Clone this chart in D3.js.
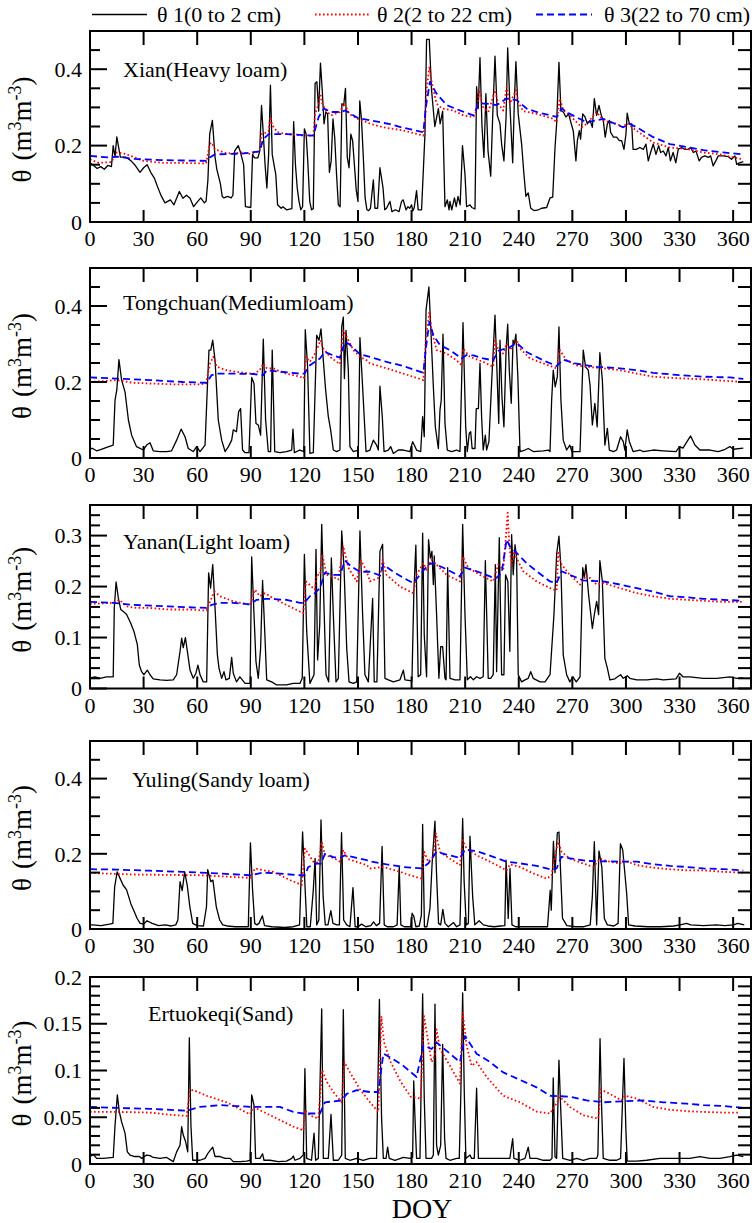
<!DOCTYPE html>
<html><head><meta charset="utf-8">
<script src="https://cdn.jsdelivr.net/npm/d3@7"></script>
<style>body{margin:0;background:#fff}svg{display:block}text{font-family:"Liberation Serif","Times New Roman",serif;fill:#000}</style>
</head><body>
<script>
// ---------- DATA (day of year, theta m3/m3) ----------
const xTicks = [0,30,60,90,120,150,180,210,240,270,300,330,360];
const seriesNames = ["θ 1(0 to 2 cm)","θ 2(2 to 22 cm)","θ 3(22 to 70 cm)"];
const siteNames = ["Xian(Heavy loam)","Tongchuan(Mediumloam)","Yanan(Light loam)","Yuling(Sandy loam)","Ertuokeqi(Sand)"];
const yLabels1 = [0,0.2,0.4];
const yLabels2 = [0,0.2,0.4];
const yLabels3 = [0,0.1,0.2,0.3];
const yLabels4 = [0,0.2,0.4];
const yLabels5 = [0,0.05,0.1,0.15,0.2];

const xianT1 = [[0,.155],[2,.148],[4,.14],[6,.145],[8,.138],[10,.148],[12,.145],[13,.2],[14,.17],[15,.223],[17,.17],[20,.17],[23,.16],[25,.15],[28,.13],[30,.142],[32,.15],[34,.13],[36,.115],[38,.09],[40,.067],[42,.05],[45,.058],[47,.045],[50,.08],[52,.062],[54,.07],[56,.062],[58,.04],[60,.052],[62,.063],[64,.05],[65,.055],[66,.11],[67,.23],[68.5,.266],[70,.17],[71,.138],[73,.1],[74,.067],[75,.063],[77,.067],[79,.063],[80,.07],[81,.186],[83,.2],[84,.186],[86,.15],[87,.04],[90,.038],[91,.177],[92,.168],[94,.168],[95,.186],[96,.305],[97,.23],[98,.15],[99,.089],[100,.177],[101,.358],[102,.177],[103,.15],[104,.124],[105,.045],[107,.036],[108,.04],[110,.032],[113,.035],[114,.263],[115,.15],[116,.089],[117,.054],[118,.032],[119,.04],[120,.244],[121,.23],[122,.15],[123,.054],[124,.032],[125,.035],[126,.363],[127,.367],[128,.29],[129,.416],[130,.345],[131,.257],[132,.288],[133,.283],[134,.13],[135,.16],[136,.27],[137,.22],[138,.125],[139,.045],[140,.04],[141,.31],[142,.305],[143,.35],[144,.17],[145,.142],[146,.23],[147,.213],[148,.15],[149,.085],[150,.054],[151,.317],[152,.266],[153,.169],[154,.063],[155,.032],[156,.03],[157,.036],[158.6,.11],[159.5,.036],[161,.036],[162.3,.142],[164,.09],[165,.032],[166,.036],[167.9,.054],[169,.027],[171,.032],[173,.027],[174.4,.054],[175.3,.058],[176.9,.032],[178,.04],[179,.036],[180,.045],[180.7,.029],[181.5,.038],[182.8,.082],[183.7,.032],[185.6,.032],[187.5,.23],[188.4,.478],[189.9,.478],[191.2,.345],[193,.25],[195,.297],[196,.257],[197.4,.29],[198.7,.04],[200,.058],[201,.032],[201.5,.054],[202.5,.032],[204,.063],[205,.04],[206,.067],[207.2,.045],[208.5,.2],[209.9,.125],[210.8,.04],[212.7,.045],[213.7,.038],[215.5,.034],[216.4,.354],[217.3,.297],[218.3,.43],[219.4,.253],[220.5,.169],[221.6,.336],[222.8,.186],[224.3,.12],[225.4,.275],[226.7,.434],[228,.279],[229.5,.257],[230.4,.204],[231.7,.16],[232.9,.275],[233.8,.456],[235.1,.301],[236.6,.155],[237.5,.31],[238.4,.42],[239.7,.283],[241.6,.204],[242.9,.125],[244,.067],[245.3,.076],[246.7,.036],[248.5,.03],[251,.032],[252.8,.036],[255.6,.038],[257.5,.063],[259,.065],[260.3,.195],[261.2,.257],[262.5,.418],[263.6,.292],[264.9,.288],[266.4,.275],[267.9,.283],[269.4,.257],[270.5,.239],[272,.16],[272.8,.213],[273.9,.239],[274.6,.217],[275.8,.283],[277.1,.275],[278.4,.257],[279.9,.266],[281.2,.248],[282.3,.323],[283.6,.279],[284.9,.305],[286.2,.279],[287.3,.266],[288.4,.222],[289.6,.257],[290.7,.266],[291.4,.235],[293,.222],[294.8,.222],[296.3,.213],[297.6,.213],[298.9,.19],[300,.23],[300.7,.285],[301.9,.257],[303.2,.257],[304,.19],[305.8,.19],[307.8,.195],[309.7,.19],[311.2,.204],[312.5,.16],[313.8,.182],[315.3,.204],[316.8,.177],[318.3,.2],[319.4,.182],[320.9,.186],[322.4,.173],[323.7,.195],[324.9,.16],[326.4,.182],[327.9,.155],[329.3,.191],[331.2,.195],[333,.19],[334.9,.191],[336.2,.195],[337.7,.182],[339.2,.186],[341,.16],[342.3,.169],[344.2,.173],[346.1,.169],[347.4,.173],[348.8,.147],[350.3,.16],[351.7,.173],[354.5,.173],[357.3,.171],[359.1,.164],[361,.173],[362,.151],[363.5,.155],[365.7,.158]];
const xianT2 = [[0,.164],[5,.155],[12,.157],[15,.182],[20,.178],[25,.169],[30,.16],[40,.155],[50,.155],[65,.153],[67,.204],[68,.208],[70,.19],[75,.182],[80,.179],[85,.182],[90,.178],[95,.186],[96,.23],[97,.23],[100,.239],[101,.275],[102,.253],[105,.235],[110,.23],[120,.226],[125,.226],[126,.283],[128,.31],[129,.336],[130,.31],[132,.292],[135,.279],[140,.288],[142,.31],[143,.305],[145,.283],[150,.27],[155,.261],[157,.257],[164,.248],[175,.24],[186.6,.226],[187.5,.257],[188.4,.345],[190,.407],[191.2,.367],[194,.31],[197,.297],[203.4,.292],[209,.279],[214.6,.275],[216.4,.292],[217.9,.345],[220,.301],[223,.288],[226.7,.345],[228.5,.31],[231.3,.292],[233.2,.354],[235,.31],[238.4,.345],[239.7,.314],[242.5,.29],[250,.283],[259.3,.27],[261.2,.261],[263,.323],[265,.292],[268.6,.279],[275.2,.248],[278,.257],[283.6,.288],[287.3,.266],[294.8,.257],[298.5,.248],[300.4,.259],[306,.239],[315.3,.208],[324.6,.195],[334,.191],[343.3,.182],[352.6,.177],[365.7,.164]];
const xianT3 = [[0,.173],[10,.169],[15,.171],[25,.165],[40,.162],[65,.16],[67,.169],[70,.177],[85,.179],[95,.185],[97,.217],[100,.23],[110,.23],[125,.226],[128,.275],[131,.297],[135,.288],[140,.288],[143,.292],[150,.272],[157,.266],[168,.256],[175,.247],[186.6,.235],[188,.301],[190.3,.367],[194,.336],[199.6,.306],[207,.292],[214.6,.279],[217.5,.31],[222,.31],[227.6,.306],[233.2,.323],[238.8,.319],[244.4,.297],[250,.288],[261.2,.275],[264,.297],[268.6,.283],[278,.261],[287.3,.27],[298.5,.248],[302,.257],[306,.248],[315.3,.222],[324.6,.204],[335.8,.195],[343.3,.188],[354.5,.182],[365.7,.177]];

const tongT1 = [[0,.025],[1.5,.025],[3.7,.019],[6,.022],[9.3,.028],[13,.034],[14,.152],[15,.179],[16.2,.259],[17.7,.205],[19.6,.174],[21.5,.1],[23.3,.06],[26,.03],[29.9,.021],[31.7,.034],[33.6,.04],[35.4,.019],[39,.017],[42.9,.017],[45.7,.019],[48.5,.047],[51,.076],[53.2,.056],[55,.025],[57.8,.017],[59.7,.03],[61.6,.017],[64.4,.034],[65.7,.187],[66.6,.284],[67.6,.284],[68.7,.31],[70,.257],[71.8,.1],[73.7,.047],[75.6,.017],[77.5,.03],[79.3,.047],[80.2,.074],[82,.069],[83.2,.122],[84.3,.13],[85.4,.021],[86.8,.014],[89,.014],[90.5,.212],[91.8,.196],[92.9,.091],[94.2,.087],[95.5,.06],[97,.313],[98.3,.1],[99.8,.017],[101.1,.017],[102,.284],[103.4,.017],[106.3,.014],[110,.017],[112.9,.021],[113.6,.076],[114.4,.014],[117.5,.021],[119.7,.017],[120.5,.338],[121.8,.24],[123.1,.012],[125,.014],[126.9,.323],[128.2,.31],[129.3,.34],[130.6,.257],[131.9,.179],[133.4,.109],[134.7,.074],[136.2,.021],[138.1,.017],[139.9,.021],[140.9,.345],[141.8,.371],[142.4,.209],[143.3,.336],[144.6,.231],[145.5,.03],[147.4,.017],[150.2,.021],[151.1,.317],[152.6,.187],[154.5,.017],[156.7,.021],[158.6,.047],[160.4,.034],[161.4,.021],[162.3,.189],[163.6,.109],[164.6,.017],[167,.021],[168.3,.03],[169.8,.012],[172.6,.021],[175.4,.021],[179.1,.017],[180.6,.043],[181.5,.034],[182.8,.021],[185.1,.017],[186.2,.109],[187.1,.056],[188.1,.389],[189.7,.45],[190.9,.327],[192.2,.187],[193.3,.082],[195,.025],[195.9,.126],[196.6,.152],[197.6,.326],[198.7,.091],[200,.021],[202.4,.017],[205.2,.021],[207.1,.017],[208.8,.356],[210.3,.082],[211.2,.017],[212.3,.065],[213.1,.069],[213.9,.025],[215.5,.025],[216.2,.13],[217.4,.13],[218.3,.249],[219.2,.109],[220.1,.021],[221.3,.06],[222,.021],[223.3,.043],[224.8,.196],[226.7,.376],[227.6,.257],[228.8,.091],[229.5,.31],[230.6,.161],[231.7,.082],[232.9,.284],[233.8,.352],[234.7,.231],[235.8,.144],[236.8,.31],[237.6,.301],[238.4,.326],[239.5,.214],[240.7,.017],[243.5,.021],[245.3,.025],[248.1,.017],[253.7,.019],[256.5,.021],[257.5,.017],[258.4,.152],[259.3,.231],[260.4,.187],[261.6,.214],[262.5,.345],[263.6,.152],[264.9,.047],[266.8,.021],[268.6,.034],[269.7,.017],[274.3,.017],[276.1,.284],[277.4,.24],[278.9,.231],[279.9,.192],[281.2,.087],[282.6,.144],[283.9,.082],[285.4,.277],[286.8,.205],[288.2,.034],[289.6,.078],[290.7,.021],[293,.017],[294.8,.021],[297,.056],[298.5,.043],[299.4,.021],[300.7,.074],[301.9,.043],[304,.017],[307.8,.021],[309.7,.017],[315.3,.021],[320.9,.019],[328,.017],[330,.03],[331.9,.026],[336.2,.058],[338.6,.034],[341.4,.021],[347,.021],[351.7,.017],[355.5,.023],[358.2,.03],[360,.023],[365.7,.026]];
const tongT2 = [[0,.2],[15,.205],[24,.198],[33.6,.196],[46.6,.194],[61.6,.194],[65,.196],[67.2,.249],[69,.266],[71,.24],[76.5,.231],[83,.226],[91.4,.221],[95,.231],[97,.249],[99,.236],[102.6,.236],[108,.224],[117.5,.214],[119.7,.21],[120.9,.266],[123.1,.253],[126,.275],[129.1,.31],[130.6,.288],[134.3,.266],[139.9,.247],[141.8,.336],[143.7,.319],[147.4,.284],[151.1,.266],[154.9,.257],[156.7,.249],[166,.236],[175.4,.222],[186.6,.205],[188.1,.318],[190,.384],[191.2,.336],[194,.284],[199.6,.275],[205.2,.257],[208,.244],[208.9,.288],[212.7,.266],[220.1,.253],[225.7,.24],[226.7,.314],[228.5,.284],[231.3,.275],[233.2,.301],[235.1,.284],[238.8,.31],[240.7,.288],[246.3,.262],[253.7,.249],[261.2,.236],[263,.284],[266.8,.257],[272.4,.244],[278,.24],[287.3,.236],[296.6,.231],[306,.222],[315.3,.214],[324.6,.211],[334,.209],[343.3,.207],[352.6,.204],[365.7,.2]];
const tongT3 = [[0,.212],[15,.209],[33.6,.205],[52,.2],[65.3,.198],[68,.218],[71,.222],[80.2,.222],[91.4,.221],[97,.218],[98.9,.231],[104.5,.228],[117.5,.222],[120,.222],[123.1,.244],[128.7,.262],[131.5,.279],[136.2,.27],[139.9,.264],[142.7,.306],[145.5,.298],[151.1,.273],[156.7,.266],[166,.253],[175.4,.242],[186.6,.224],[188.1,.292],[190,.358],[192.2,.323],[195.9,.297],[201.5,.284],[208,.262],[210.8,.271],[214.6,.27],[220.1,.262],[225.7,.257],[228.5,.282],[235.1,.292],[238.8,.303],[244.4,.279],[253.7,.257],[261.2,.242],[264.9,.259],[272.4,.248],[283.6,.24],[296.6,.236],[306,.231],[315.3,.224],[330,.218],[343.3,.214],[358.2,.212],[365.7,.208]];

const yananT1 = [[0,.021],[2.8,.023],[5.6,.02],[9.3,.023],[13,.023],[13.6,.158],[14.6,.209],[15.9,.177],[17.2,.155],[19,.15],[20.5,.145],[22.8,.128],[24.6,.112],[26.5,.086],[27.6,.046],[28.9,.033],[30.2,.027],[32.1,.036],[33.6,.027],[35.4,.019],[39.2,.017],[42.9,.016],[46.6,.017],[48.5,.027],[50.4,.073],[51.3,.099],[52.2,.08],[53.4,.1],[54.5,.073],[56,.036],[57.8,.02],[59.3,.03],[60.4,.046],[61.6,.027],[63.4,.013],[65.3,.013],[66.4,.227],[67.5,.197],[68.7,.243],[70,.158],[71.3,.066],[72.2,.04],[73.7,.02],[75,.033],[76.1,.017],[78,.02],[79.3,.061],[80.2,.03],[82,.013],[83.9,.023],[86.8,.01],[89.6,.01],[90.5,.258],[91.8,.145],[92.9,.053],[94.2,.02],[95.5,.079],[96.6,.212],[97.9,.105],[98.9,.017],[101.7,.013],[104.5,.007],[110,.007],[113.8,.01],[117.5,.01],[118.8,.02],[120,.263],[121.3,.112],[123.1,.01],[125.4,.027],[126.5,.273],[127.4,.056],[128.6,.125],[129.7,.322],[131,.158],[132.1,.027],[133.6,.013],[135.1,.256],[136.2,.145],[137.7,.013],[139,.02],[140.9,.309],[142.2,.237],[143.7,.079],[145,.013],[147.4,.01],[149.3,.013],[151.1,.309],[152.6,.145],[153.9,.027],[155.8,.013],[158.2,.177],[159.1,.013],[160.6,.013],[162.3,.269],[163.8,.283],[165.1,.02],[167,.017],[169.8,.013],[173.5,.017],[175.4,.036],[176.3,.017],[180.2,.015],[181.3,.191],[182.4,.281],[183.7,.023],[185.1,.027],[186.2,.305],[187.1,.105],[188.4,.023],[189.5,.292],[190.5,.256],[191.4,.269],[192.2,.204],[192.7,.26],[194,.145],[195.3,.02],[196.3,.082],[197.4,.082],[198.7,.02],[199.3,.017],[200.2,.237],[201.5,.02],[204.3,.017],[207.1,.017],[208.6,.322],[209.9,.145],[211.2,.017],[213,.023],[214.6,.017],[216.4,.023],[218.3,.02],[220.1,.023],[221.3,.251],[222.9,.02],[224.3,.02],[225.7,.027],[226.9,.243],[227.6,.033],[229.1,.296],[230.4,.027],[231.7,.027],[232.6,.223],[233.9,.21],[235,.073],[236,.302],[236.9,.223],[237.9,.282],[238.8,.256],[239.7,.027],[241.6,.013],[243.5,.017],[245.3,.02],[246.7,.033],[248.1,.02],[251.9,.013],[254.7,.013],[257.5,.027],[259.7,.145],[261.2,.263],[262.5,.299],[263.6,.237],[264.9,.066],[266.8,.027],[268.6,.013],[270.3,.023],[272.2,.013],[274.3,.023],[275.8,.237],[276.7,.217],[277.6,.243],[279.1,.184],[281.2,.118],[282.3,.145],[283.6,.171],[284.7,.145],[285.4,.251],[286.8,.21],[288.2,.059],[289.6,.04],[291,.017],[293.8,.019],[295.3,.023],[297,.027],[298.5,.02],[300.7,.025],[302.2,.02],[306,.017],[311.6,.017],[317.2,.019],[320.9,.017],[328,.019],[330,.03],[331.9,.023],[335.8,.023],[343.3,.02],[350.8,.02],[358.2,.023],[362,.02],[365.7,.021]];
const yananT2 = [[0,.166],[13,.168],[16.4,.174],[20.5,.161],[26,.158],[33.6,.158],[44,.155],[54.1,.155],[65.3,.153],[67.2,.171],[69.6,.19],[72.8,.181],[80.2,.171],[89.6,.164],[92.4,.194],[95.1,.181],[97.9,.187],[102.6,.177],[110,.164],[117.5,.151],[119.4,.148],[120.9,.21],[124,.2],[125.9,.194],[126.9,.223],[128.7,.223],[130,.263],[132.5,.223],[135.3,.22],[139,.214],[141.8,.279],[144.6,.237],[149.3,.21],[151.7,.251],[154.9,.23],[156.7,.21],[162.3,.218],[163.8,.253],[166,.223],[173.5,.2],[181,.187],[182.8,.223],[186.6,.246],[188.4,.233],[191.2,.253],[194,.243],[199.6,.223],[207.1,.21],[208.6,.259],[211.7,.237],[218.3,.223],[225.7,.21],[228.5,.243],[231.3,.233],[232.6,.289],[233.8,.345],[234.7,.282],[236,.243],[237.3,.269],[238.8,.256],[242.5,.23],[250,.21],[257.5,.197],[261.2,.192],[262.1,.266],[264,.243],[268.6,.223],[274.3,.204],[278,.223],[283.6,.204],[287.3,.207],[296.6,.197],[306,.187],[315.3,.181],[324.6,.176],[334,.174],[343.3,.172],[354.5,.17],[365.7,.17]];
const yananT3 = [[0,.17],[13,.168],[24.3,.164],[44,.161],[65.3,.158],[68,.164],[72.8,.168],[80.2,.168],[89.6,.165],[93.3,.174],[98.9,.176],[110,.174],[117.5,.168],[120,.168],[123.1,.181],[125.9,.187],[128.7,.197],[131.5,.227],[136.2,.223],[140,.223],[142.7,.251],[146,.24],[151.1,.229],[156.7,.229],[162.3,.222],[164.2,.243],[169.8,.229],[175.4,.217],[181,.207],[184.7,.223],[189.3,.243],[192.2,.246],[197.8,.237],[207.1,.22],[209.9,.237],[216.4,.23],[223.9,.22],[226.7,.215],[230.4,.226],[233.2,.292],[235,.279],[238.8,.266],[244.4,.246],[250,.23],[257.5,.21],[261.2,.207],[264,.23],[268.6,.223],[276.1,.212],[287.3,.21],[296.6,.204],[306,.197],[315.3,.19],[324.6,.181],[334,.179],[343.3,.176],[354.5,.174],[365.7,.172]];

const yulingT1 = [[0,.011],[1.3,.011],[6.1,.009],[10.9,.013],[12.8,.015],[13.8,.112],[15.2,.152],[16.9,.134],[18.5,.117],[20.5,.104],[22.8,.068],[24.8,.046],[26.4,.028],[28.1,.015],[30,.013],[31.9,.022],[34.8,.015],[38.4,.009],[42,.011],[45.6,.008],[48,.011],[49.2,.024],[50.4,.126],[51.6,.102],[53,.152],[54.4,.117],[55.9,.059],[57.5,.015],[59.9,.009],[63.5,.008],[65.2,.059],[65.9,.158],[67.6,.126],[68.8,.13],[70.7,.059],[72.6,.024],[74.3,.011],[76.7,.008],[81.5,.006],[86.2,.006],[88.6,.006],[89.8,.229],[91,.104],[92.2,.015],[93.4,.011],[94.6,.015],[96.5,.035],[97.7,.009],[101.8,.006],[109,.004],[113.8,.006],[117.3,.011],[119,.258],[120.2,.13],[121.4,.006],[123.3,.006],[125,.104],[126,.188],[126.9,.011],[128.1,.024],[129.3,.29],[130.5,.086],[131.7,.011],[133.2,.011],[134.8,.049],[136,.015],[138.2,.011],[139.6,.011],[140.8,.256],[142,.024],[143.7,.011],[145.5,.006],[147.2,.11],[148.4,.006],[150.1,.006],[152,.013],[154.4,.006],[157.2,.009],[158.7,.019],[160.3,.009],[162.1,.015],[163.5,.22],[164.7,.011],[166.4,.006],[169.9,.006],[171.9,.011],[173.1,.165],[174,.011],[175.9,.006],[179.5,.006],[180.3,.042],[181.3,.033],[182.4,.006],[184.3,.008],[185.5,.037],[186.2,.278],[187.2,.006],[188.6,.006],[190.3,.055],[191.5,.174],[193.1,.287],[193.9,.156],[195.1,.015],[196.3,.011],[197.5,.052],[198.7,.015],[200.6,.006],[203.5,.017],[205.2,.006],[207.1,.011],[208.6,.294],[209.4,.13],[210.6,.011],[211.8,.015],[212.7,.247],[214.2,.086],[215.4,.011],[217.8,.022],[220.2,.011],[222.7,.008],[226.2,.006],[229.8,.008],[232.2,.009],[232.9,.183],[234.1,.028],[235.1,.161],[236.2,.011],[238.2,.006],[242.9,.006],[250.1,.006],[256.1,.006],[257.6,.103],[258.2,.05],[259.4,.233],[260.3,.15],[261.6,.256],[262.5,.258],[264.5,.028],[265.7,.019],[266.9,.009],[271.7,.006],[276.5,.006],[280,.011],[281.2,.086],[282.3,.232],[283.6,.011],[284.9,.208],[286.5,.165],[287.9,.028],[289.6,.011],[293.2,.008],[295.6,.015],[296.9,.227],[298.2,.21],[300.4,.095],[301.5,.011],[305.1,.008],[312.3,.006],[319.5,.006],[326.7,.008],[330.3,.011],[333.9,.015],[336.3,.011],[343.4,.009],[350.6,.011],[355.4,.009],[360.2,.011],[362.6,.015],[366.2,.011]];
const yulingT2 = [[0,.149],[24.3,.145],[61.6,.143],[89.6,.136],[92.4,.161],[95.1,.158],[102.6,.152],[112,.13],[118.5,.117],[120.3,.214],[122.2,.2],[125,.179],[127.8,.176],[129.7,.232],[131.5,.197],[136.2,.189],[140,.179],[141.8,.21],[144.6,.186],[154.9,.17],[156.7,.161],[164.2,.165],[173.5,.152],[179.1,.143],[185.6,.134],[187.1,.205],[189.3,.179],[192.2,.192],[193.6,.254],[195.9,.205],[201.5,.187],[207.1,.17],[208.6,.236],[210.8,.214],[216.4,.196],[223.9,.179],[233.2,.156],[235.1,.172],[240.7,.165],[248.1,.148],[255.6,.134],[258.4,.143],[260.3,.196],[262.1,.232],[264,.205],[268.7,.187],[276.1,.174],[281.7,.165],[285.4,.187],[290.9,.179],[296.6,.174],[298.5,.183],[306,.17],[315.3,.163],[324.6,.159],[334,.156],[343.3,.156],[354.5,.152],[365.7,.15]];
const yulingT3 = [[0,.159],[15,.158],[33.6,.155],[52,.152],[70.9,.148],[89.6,.143],[97,.15],[104.5,.148],[117.5,.143],[120.3,.143],[122.2,.165],[126.9,.174],[129.3,.174],[131.5,.2],[136.2,.191],[140,.189],[142.7,.196],[149.3,.189],[154.9,.183],[156.7,.18],[166,.172],[175.4,.165],[185.6,.161],[189.3,.174],[194,.205],[199.6,.198],[207.1,.189],[209.9,.211],[216.4,.207],[225.7,.192],[233.2,.179],[238.8,.176],[250,.168],[258.4,.158],[261.2,.161],[263.8,.192],[268.7,.188],[278,.181],[287.3,.18],[298.5,.179],[306,.179],[315.3,.172],[324.6,.168],[334,.165],[343.3,.161],[354.5,.159],[365.7,.156]];

const ertoT1 = [[0,.008],[1.9,.01],[3.7,.006],[7.5,.006],[13,.007],[14,.041],[15.3,.074],[16.4,.056],[17.7,.045],[19.6,.033],[20.9,.013],[22.4,.0096],[25,.008],[27.6,.008],[29,.006],[31.7,.0096],[33.6,.009],[35.4,.007],[39.2,.006],[42.9,.007],[46.6,.0025],[48.5,.013],[50.4,.02],[51.3,.04],[52.2,.031],[53.5,.024],[54.7,.013],[55.6,.135],[56.5,.041],[57.5,.004],[59.7,.004],[61.6,.004],[64.4,.006],[66.2,.012],[68.7,.018],[70,.008],[72.8,.008],[75.6,.006],[78.4,.006],[80.2,.0025],[84,.0025],[87.7,.003],[89.6,.004],[90.5,.074],[91.8,.063],[92.7,.006],[95.1,.006],[96.6,.011],[97.4,.004],[100.7,.004],[105.4,.0025],[110,.003],[112.9,.006],[113.8,.0085],[114.7,.004],[117.5,.006],[119.4,.0096],[120.3,.102],[121.3,.006],[124,.004],[125.4,.033],[126.3,.004],[127.8,.006],[129.7,.166],[130.6,.006],[133.4,.006],[134.9,.053],[136.2,.004],[139,.004],[140.9,.0096],[141.8,.165],[142.9,.006],[145.5,.004],[149.3,.006],[152.9,.004],[156.7,.006],[159.5,.006],[160.4,.006],[162,.176],[163.2,.05],[164.2,.006],[165.7,.006],[166.6,.018],[167.5,.006],[170.7,.004],[175.4,.007],[179.1,.006],[180.6,.007],[181.2,.089],[181.9,.05],[182.8,.006],[184.7,.006],[186.2,.182],[187.1,.07],[188.1,.006],[191.2,.006],[192.2,.0096],[193.1,.171],[194,.02],[195,.0096],[196.3,.02],[197.4,.128],[198.5,.027],[199.3,.006],[201.5,.004],[205.2,.006],[206.7,.006],[207.6,.077],[208.6,.183],[209.5,.077],[210.4,.006],[212.7,.0096],[213.6,.006],[215.1,.006],[216.4,.081],[217.4,.006],[220.2,.006],[223.9,.006],[227.6,.006],[231.3,.006],[235,.006],[236.6,.027],[237.3,.006],[240.7,.004],[243.5,.006],[245.3,.018],[246.3,.006],[250,.006],[253.7,.004],[257.5,.004],[258.6,.006],[259.3,.092],[260.3,.0078],[261.2,.006],[262.5,.111],[263.4,.063],[264.6,.006],[268.7,.004],[272.4,.006],[276.1,.004],[279.9,.006],[283.6,.006],[284.3,.0096],[285.5,.134],[286.4,.06],[287.3,.006],[291,.004],[294.8,.004],[297,.006],[298.9,.113],[300,.035],[300.7,.003],[306,.003],[311.6,.004],[319,.006],[324.6,.006],[330.2,.006],[335.8,.006],[341.4,.008],[347,.006],[352.6,.006],[358.2,.008],[362,.0096],[365.7,.008]];
const ertoT2 = [[0,.0557],[15,.0557],[33.6,.055],[42.9,.053],[54.1,.0514],[56,.0787],[57.9,.079],[65.3,.073],[76.5,.066],[89.6,.053],[91.4,.061],[98.9,.054],[106.3,.047],[113.8,.04],[119.4,.036],[120.3,.0574],[123.1,.052],[127.8,.0486],[130,.1],[132.5,.088],[136.2,.077],[140.9,.066],[142.4,.109],[145.5,.098],[151.1,.08],[156.7,.066],[161.4,.0557],[162.3,.11],[163.1,.158],[164.6,.13],[168.3,.109],[173.9,.088],[179.5,.072],[185.1,.07],[187,.158],[188.8,.137],[191.2,.109],[193.1,.116],[194,.144],[195.9,.123],[201.5,.105],[207.1,.086],[208.6,.162],[210.8,.127],[213.6,.105],[216.4,.109],[222,.093],[231.3,.073],[240.7,.066],[250,.056],[257.5,.054],[261.2,.065],[263,.072],[268.7,.061],[276.1,.052],[284.5,.0486],[285.8,.0798],[291,.075],[297.6,.068],[299.4,.073],[306,.07],[315.3,.061],[324.6,.058],[334,.0565],[343.3,.0557],[354.5,.055],[363.4,.055]];
const ertoT3 = [[0,.061],[15,.06],[33.6,.059],[54.1,.057],[61.6,.061],[72.8,.063],[82,.062],[91.4,.061],[106.3,.061],[113.8,.0557],[119.4,.054],[128.7,.054],[131.5,.066],[140.9,.068],[143.7,.075],[149.3,.079],[156.7,.077],[161.4,.077],[164.2,.118],[169.8,.112],[175.4,.105],[182.8,.093],[186.6,.127],[191.2,.123],[194,.13],[199.6,.121],[207.1,.109],[209.9,.137],[216.4,.118],[223.9,.109],[231.3,.098],[240.7,.09],[250,.082],[257.5,.073],[268.7,.072],[278,.068],[287.3,.066],[298.5,.067],[309.7,.068],[320.9,.066],[334,.0645],[343.3,.063],[354.5,.062],[365.7,.06]];

// ---------- LAYOUT ----------
const W = 754, H = 1223, left = 90, right = 751;
const panels = [
  {name: siteNames[0], s: [xianT1, xianT2, xianT3], top: 31, bottom: 222, yMax: 0.5, labels: yLabels1, minor: 0.05, tx: 123, ty: 77},
  {name: siteNames[1], s: [tongT1, tongT2, tongT3], top: 268, bottom: 458, yMax: 0.5, labels: yLabels2, minor: 0.05, tx: 123, ty: 310},
  {name: siteNames[2], s: [yananT1, yananT2, yananT3], top: 505, bottom: 688.5, yMax: 0.36, labels: yLabels3, minor: 0.02, tx: 123, ty: 549},
  {name: siteNames[3], s: [yulingT1, yulingT2, yulingT3], top: 741, bottom: 929, yMax: 0.5, labels: yLabels4, minor: 0.05, tx: 132, ty: 787},
  {name: siteNames[4], s: [ertoT1, ertoT2, ertoT3], top: 977, bottom: 1164, yMax: 0.2, labels: yLabels5, minor: 0.01, tx: 148, ty: 1021}
];
const styles = [
  {color: "#000", width: 1.3, dash: null},
  {color: "#ff0000", width: 1.8, dash: "1.6,2.4"},
  {color: "#0000ff", width: 1.8, dash: "7,4"}
];

const svg = d3.select("body").append("svg").attr("width", W).attr("height", H);
const x = d3.scaleLinear().domain([0, 370]).range([left, right]);
const fmt = v => String(+v.toFixed(2));

panels.forEach((p, pi) => {
  const y = d3.scaleLinear().domain([0, p.yMax]).range([p.bottom, p.top]);
  const g = svg.append("g");
  const clipId = "clip" + pi;
  g.append("clipPath").attr("id", clipId).append("rect")
    .attr("x", left).attr("y", p.top).attr("width", right - left).attr("height", p.bottom - p.top);
  const line = d3.line().x(d => x(d[0])).y(d => y(d[1]));
  p.s.forEach((ser, si) => {
    const st = styles[si];
    g.append("path").datum(ser).attr("d", line).attr("fill", "none")
      .attr("stroke", st.color).attr("stroke-width", st.width)
      .attr("stroke-dasharray", st.dash).attr("stroke-linejoin", "round")
      .attr("clip-path", `url(#${clipId})`);
  });
  g.append("rect").attr("x", left).attr("y", p.top).attr("width", right - left).attr("height", p.bottom - p.top)
    .attr("fill", "none").attr("stroke", "#000").attr("stroke-width", 2);
  const xt = g.append("g").attr("stroke", "#000").attr("stroke-width", 2);
  xTicks.forEach(t => {
    xt.append("line").attr("x1", x(t)).attr("x2", x(t)).attr("y1", p.bottom).attr("y2", p.bottom - 12);
    xt.append("line").attr("x1", x(t)).attr("x2", x(t)).attr("y1", p.top).attr("y2", p.top + 14);
  });
  g.selectAll(".xl").data(xTicks).enter().append("text")
    .attr("x", d => x(d)).attr("y", p.bottom + 24).attr("text-anchor", "middle")
    .attr("font-size", 22).text(d => d);
  const minors = d3.range(0, p.yMax - 1e-9, p.minor);
  const isMajor = v => p.labels.some(l => Math.abs(l - v) < 1e-6);
  minors.forEach(v => {
    const len = isMajor(v) ? 17 : 10;
    xt.append("line").attr("x1", left).attr("x2", left + len).attr("y1", y(v)).attr("y2", y(v));
    xt.append("line").attr("x1", right).attr("x2", right - 13).attr("y1", y(v)).attr("y2", y(v));
  });
  g.selectAll(".yl").data(p.labels).enter().append("text")
    .attr("x", 82).attr("y", d => y(d)).attr("dy", "0.35em").attr("text-anchor", "end")
    .attr("font-size", 22).text(d => fmt(d));
  g.append("text").attr("x", p.tx).attr("y", p.ty).attr("font-size", 22).text(p.name);
  const cy = (p.top + p.bottom) / 2 + 3;
  const yt = g.append("text").attr("transform", `translate(31,${cy}) rotate(-90)`)
    .attr("text-anchor", "middle").attr("font-size", 27);
  yt.append("tspan").text("θ");
  yt.append("tspan").attr("dx", 9).text("(m");
  yt.append("tspan").attr("baseline-shift", "super").attr("font-size", 18).text("3");
  yt.append("tspan").text("m");
  yt.append("tspan").attr("baseline-shift", "super").attr("font-size", 18).text("-3");
  yt.append("tspan").text(")");
});

svg.append("text").attr("x", 422).attr("y", 1218).attr("text-anchor", "middle").attr("font-size", 28).text("DOY");

const legX = [{l: 92, r: 147, t: 157}, {l: 315, r: 370, t: 377}, {l: 536, r: 592, t: 604}];
seriesNames.forEach((nm, i) => {
  const st = styles[i];
  svg.append("line").attr("x1", legX[i].l).attr("x2", legX[i].r).attr("y1", 14.5).attr("y2", 14.5)
    .attr("stroke", st.color).attr("stroke-width", st.width).attr("stroke-dasharray", st.dash);
  svg.append("text").attr("x", legX[i].t).attr("y", 22).attr("font-size", 22).text(nm);
});
</script>
</body></html>
